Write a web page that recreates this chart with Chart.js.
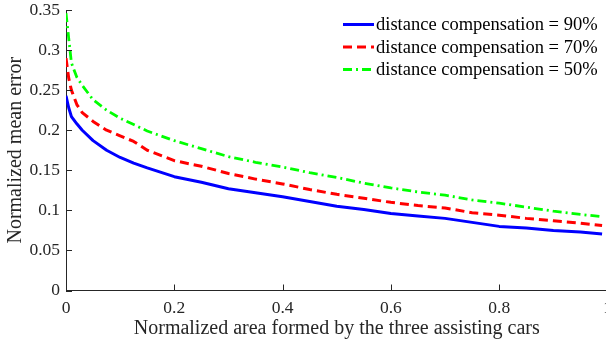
<!DOCTYPE html>
<html>
<head>
<meta charset="utf-8">
<script src="https://cdn.jsdelivr.net/npm/chart.js@4/dist/chart.umd.min.js"></script>
<style>
html,body{margin:0;padding:0;background:#fff;overflow:hidden;width:606px;height:346px;}
canvas{display:block;}
</style>
</head>
<body>
<canvas id="c" width="610" height="346" style="width:610px;height:346px"></canvas>
<script>
// ---- data ----
const xValues = [0, 0.005, 0.01, 0.02, 0.03, 0.05, 0.075, 0.1, 0.125, 0.15, 0.2, 0.25, 0.3, 0.35, 0.4, 0.45, 0.5, 0.55, 0.6, 0.65, 0.7, 0.75, 0.8, 0.85, 0.9, 0.95, 0.99];
const comp90 = [0.243, 0.228, 0.217, 0.208, 0.200, 0.187, 0.175, 0.166, 0.159, 0.153, 0.142, 0.135, 0.127, 0.122, 0.117, 0.111, 0.105, 0.101, 0.096, 0.093, 0.090, 0.085, 0.080, 0.078, 0.075, 0.073, 0.0705];
const comp70 = [0.290, 0.265, 0.250, 0.232, 0.222, 0.211, 0.200, 0.193, 0.186, 0.175, 0.162, 0.155, 0.146, 0.139, 0.133, 0.126, 0.120, 0.115, 0.110, 0.106, 0.103, 0.097, 0.094, 0.090, 0.087, 0.084, 0.081];
const comp50 = [0.346, 0.315, 0.284, 0.266, 0.256, 0.238, 0.225, 0.215, 0.207, 0.199, 0.187, 0.177, 0.167, 0.160, 0.154, 0.147, 0.141, 0.134, 0.128, 0.123, 0.119, 0.113, 0.109, 0.104, 0.099, 0.095, 0.092];
const seriesLabels = ['distance compensation = 90%', 'distance compensation = 70%', 'distance compensation = 50%'];
const xTickValues = [0, 0.2, 0.4, 0.6, 0.8, 1];
const xTickLabels = ['0', '0.2', '0.4', '0.6', '0.8', '1'];
const yTickValues = [0, 0.05, 0.1, 0.15, 0.2, 0.25, 0.3, 0.35];
const yTickLabels = ['0', '0.05', '0.1', '0.15', '0.2', '0.25', '0.3', '0.35'];
const xTitle = 'Normalized area formed by the three assisting cars';
const yTitle = 'Normalized mean error';

const FONT = '"Liberation Serif", "Times New Roman", serif';
const AXIS_COLOR = '#262626';

function pts(ys) { return xValues.map((x, i) => ({x: x, y: ys[i]})); }

const datasets = [
  {label: seriesLabels[0], data: pts(comp90), borderColor: '#0000ff', borderWidth: 3, borderDash: []},
  {label: seriesLabels[1], data: pts(comp70), borderColor: '#ff0000', borderWidth: 3, borderDash: [9, 5]},
  {label: seriesLabels[2], data: pts(comp50), borderColor: '#00ff00', borderWidth: 2.8, borderDash: [9, 4, 2, 4]}
].map(d => Object.assign(d, {pointRadius: 0, tension: 0, fill: false, borderCapStyle: 'butt', borderJoinStyle: 'round'}));

// inward tick marks (MATLAB style)
const inwardTicks = {
  id: 'inwardTicks',
  afterDatasetsDraw(chart) {
    const ctx = chart.ctx, xs = chart.scales.x, ys = chart.scales.y;
    const ca = chart.chartArea;
    ctx.save();
    ctx.strokeStyle = AXIS_COLOR;
    ctx.lineWidth = 1;
    ctx.beginPath();
    yTickValues.forEach(v => {
      const py = Math.round(ys.getPixelForValue(v)) + 0.5;
      ctx.moveTo(ca.left, py); ctx.lineTo(ca.left + 6, py);
    });
    xTickValues.forEach(v => {
      const px = Math.round(xs.getPixelForValue(v)) + 0.5;
      ctx.moveTo(px, ca.bottom); ctx.lineTo(px, ca.bottom - 6);
    });
    ctx.stroke();
    ctx.restore();
  }
};

// legend drawn inside the axes, upper right, no box
const innerLegend = {
  id: 'innerLegend',
  afterDraw(chart) {
    const ctx = chart.ctx;
    ctx.save();
    ctx.font = '18.5px ' + FONT;
    ctx.textBaseline = 'middle';
    ctx.textAlign = 'left';
    chart.data.datasets.forEach((ds, i) => {
      const y = 24.5 + i * 22.5;
      ctx.strokeStyle = ds.borderColor;
      ctx.lineWidth = ds.borderWidth;
      ctx.setLineDash(ds.borderDash);
      ctx.lineCap = 'butt';
      ctx.beginPath();
      ctx.moveTo(343, y); ctx.lineTo(374, y);
      ctx.stroke();
      ctx.setLineDash([]);
      ctx.fillStyle = '#000';
      ctx.fillText(ds.label, 376, y + 1);
    });
    ctx.restore();
  }
};

new Chart(document.getElementById('c'), {
  type: 'line',
  data: {datasets: datasets},
  options: {
    responsive: false,
    animation: false,
    devicePixelRatio: 1,
    layout: {padding: {left: 0, top: 10, right: 2.5, bottom: 0}},
    plugins: {legend: {display: false}, tooltip: {enabled: false}},
    scales: {
      x: {
        type: 'linear', min: 0, max: 1,
        afterBuildTicks: s => { s.ticks = xTickValues.map(v => ({value: v})); },
        afterFit: s => { s.height = 55.5; s.paddingLeft = 0; s.paddingRight = 0; },
        grid: {display: false, drawTicks: false},
        border: {display: true, color: AXIS_COLOR, width: 1},
        ticks: {
          autoSkip: false, maxRotation: 0, padding: 7.5, color: AXIS_COLOR,
          font: {family: FONT, size: 17.5},
          callback: (v, i) => xTickLabels[i]
        },
        title: {display: true, text: xTitle, color: AXIS_COLOR, font: {family: FONT, size: 20}, padding: {top: 0, bottom: 5}}
      },
      y: {
        type: 'linear', min: 0, max: 0.35,
        afterBuildTicks: s => { s.ticks = yTickValues.map(v => ({value: v})); },
        afterFit: s => { s.width = 66; s.paddingTop = 0; s.paddingBottom = 0; },
        grid: {display: false, drawTicks: false},
        border: {display: true, color: AXIS_COLOR, width: 1},
        ticks: {
          autoSkip: false, padding: 6, color: AXIS_COLOR,
          font: {family: FONT, size: 17.5},
          callback: (v, i) => yTickLabels[i]
        },
        title: {display: true, text: yTitle, color: AXIS_COLOR, font: {family: FONT, size: 20}, padding: {top: 4, bottom: 0}}
      }
    }
  },
  plugins: [inwardTicks, innerLegend]
});
</script>
</body>
</html>
